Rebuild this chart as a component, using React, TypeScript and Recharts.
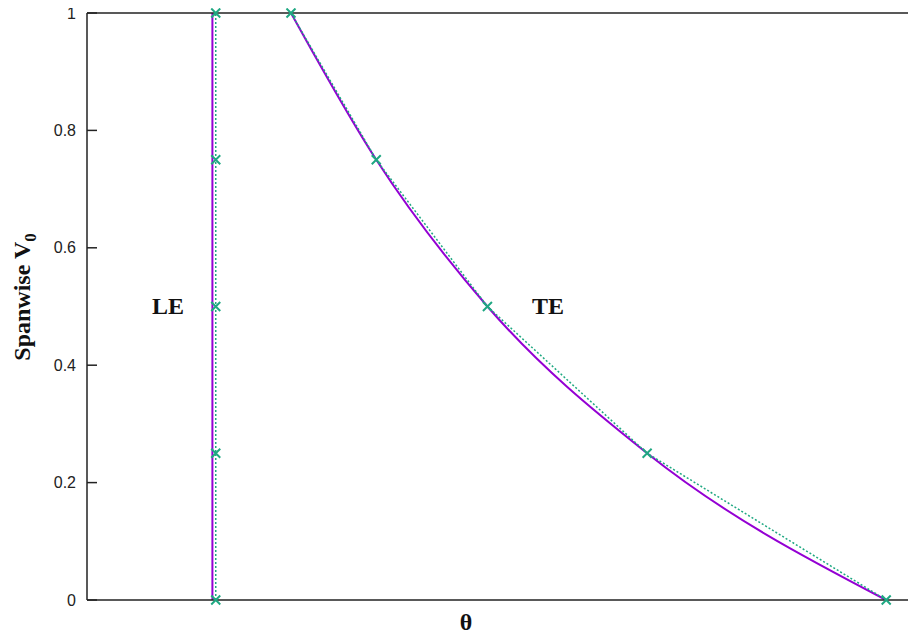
import React from "react";
import { ComposedChart, Line, XAxis, YAxis } from "recharts";

// span stations (V0) and edge sweep positions (θ, arbitrary units 0–100)
const spanStations = [0, 0.25, 0.5, 0.75, 1];
const leCurveX = [15.0, 15.0, 15.0, 15.0, 15.0];
const leMarkerX = [15.4, 15.4, 15.4, 15.4, 15.4];
const teCurveX = [95.6, 67.0, 47.9, 34.6, 24.4];
const teMarkerX = [95.6, 67.0, 47.9, 34.6, 24.4];
const yTicks = [0, 0.2, 0.4, 0.6, 0.8, 1];

const toRows = (xs: number[]) => xs.map((x, i) => ({ x, v: spanStations[i] }));

const leCurve = toRows(leCurveX);
const leMarkers = toRows(leMarkerX);
const teCurve = toRows(teCurveX);
const teMarkers = toRows(teMarkerX);

const PURPLE = "#9400d3";
const GREEN = "#1fa882";
const AXIS = "#222";
const serif = "'Liberation Serif', 'Times New Roman', serif";
const sans = "'Liberation Sans', Arial, sans-serif";
const blank = () => "";
const NoLabel = () => <g />;

const Cross = (props: any) => {
  const { cx, cy, index } = props;
  if (cx == null || cy == null) return <g key={index} />;
  const s = 4.5;
  return (
    <path
      key={index}
      d={`M${cx - s},${cy - s}L${cx + s},${cy + s}M${cx - s},${cy + s}L${cx + s},${cy - s}`}
      stroke={GREEN}
      strokeWidth={2}
      fill="none"
    />
  );
};

export default function App() {
  return (
    <div style={{ margin: -8, width: 916, height: 640, overflow: "hidden", position: "relative", background: "#fff" }}>
      <ComposedChart width={960} height={640} margin={{ top: 13, right: 17, bottom: 40, left: 27 }}>
        <XAxis xAxisId="bottom" type="number" dataKey="x" domain={[0, 100]} height={10} mirror
          ticks={[0, 100]} tickFormatter={blank} tickLine={false}
          axisLine={{ stroke: AXIS, strokeWidth: 1.5 }} />
        <XAxis xAxisId="top" orientation="top" type="number" dataKey="x" domain={[0, 100]} height={10} mirror
          ticks={[0, 100]} tickFormatter={blank} tickLine={false}
          axisLine={{ stroke: AXIS, strokeWidth: 1.5 }} />
        {/* negative tick size turns the tick marks inward, gnuplot style */}
        <YAxis yAxisId="left" type="number" domain={[0, 1]} ticks={yTicks} width={60}
          tickSize={-10} tickMargin={21}
          tickLine={{ stroke: AXIS, strokeWidth: 1.5 }}
          axisLine={{ stroke: AXIS, strokeWidth: 1.5 }}
          tick={{ fill: "#222", fontSize: 16, fontFamily: sans }} />
        <YAxis yAxisId="right" orientation="right" type="number" domain={[0, 1]} ticks={yTicks} width={20}
          tick={NoLabel} tickSize={-10}
          axisLine={{ stroke: AXIS, strokeWidth: 1.5 }}
          tickLine={{ stroke: AXIS, strokeWidth: 1.5 }} />

        <Line xAxisId="bottom" yAxisId="left" data={leCurve} dataKey="v" type="linear"
          stroke={PURPLE} strokeWidth={2} dot={false} isAnimationActive={false} />
        <Line xAxisId="bottom" yAxisId="left" data={teCurve} dataKey="v" type="monotone"
          stroke={PURPLE} strokeWidth={2} dot={false} isAnimationActive={false} />
        <Line xAxisId="bottom" yAxisId="left" data={leMarkers} dataKey="v" type="linear"
          stroke={GREEN} strokeWidth={1.5} strokeDasharray="2 2" dot={Cross} isAnimationActive={false} />
        <Line xAxisId="bottom" yAxisId="left" data={teMarkers} dataKey="v" type="linear"
          stroke={GREEN} strokeWidth={1.5} strokeDasharray="2 2" dot={Cross} isAnimationActive={false} />
      </ComposedChart>

      <svg width={916} height={640} style={{ position: "absolute", left: 0, top: 0, pointerEvents: "none" }}>
        <g fontFamily={serif} fontWeight="bold" fontSize={24} fill="#111">
          <text x={168} y={314} textAnchor="middle">LE</text>
          <text x={548} y={314} textAnchor="middle">TE</text>
          <text x={466} y={630} textAnchor="middle">θ</text>
          <text transform="translate(30,297) rotate(-90)" textAnchor="middle">
            Spanwise V<tspan fontSize={17} dy={6}>0</tspan>
          </text>
        </g>
      </svg>
    </div>
  );
}
